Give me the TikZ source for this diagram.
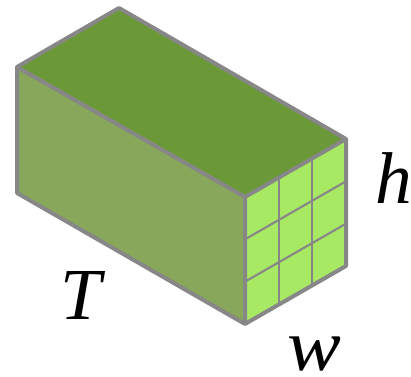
\documentclass[tikz,border=0pt]{standalone}
\usepackage{fontspec}
\setmainfont{Liberation Serif}
\usetikzlibrary{calc}
\definecolor{edgegray}{HTML}{878787}
\definecolor{topg}{HTML}{6C9937}
\definecolor{sideg}{HTML}{88A75B}
\definecolor{frontg}{HTML}{A8E963}
\tikzset{edge/.style={draw=edgegray,line width=3pt,line join=round},
 gridline/.style={draw=edgegray,line width=1.6pt},
 lab/.style={inner sep=0pt,font=\itshape\fontsize{55}{55}\selectfont,text=black}}
\begin{document}
\begin{tikzpicture}[x=0.75pt,y=-0.75pt]
\useasboundingbox (0,0) rectangle (411,377);
\coordinate (A) at (17,67);
\coordinate (B) at (119,8);
\coordinate (C) at (346,139);
\coordinate (D) at (245,197);
\coordinate (E) at (17,193);
\coordinate (F) at (245,324);
\coordinate (G) at (346,266);
\fill[topg] (A)--(B)--(C)--(D)--cycle;
\fill[sideg] (A)--(D)--(F)--(E)--cycle;
\fill[frontg] (D)--(C)--(G)--(F)--cycle;
\foreach \t in {0.3333,0.6667}{
  \draw[gridline] ($(D)!\t!(C)$)--($(F)!\t!(G)$);
  \draw[gridline] ($(D)!\t!(F)$)--($(C)!\t!(G)$);
}
\draw[edge] (A)--(B)--(C)--(D)--cycle;
\draw[edge] (A)--(E)--(F)--(D);
\draw[edge] (F)--(G)--(C);
\node[lab] (T) at (81,295) {T};
\node[lab] (h) at (394,178) {h};
\node[lab,xscale=1.1] (w) at (314,354) {w};
\end{tikzpicture}
\end{document}
